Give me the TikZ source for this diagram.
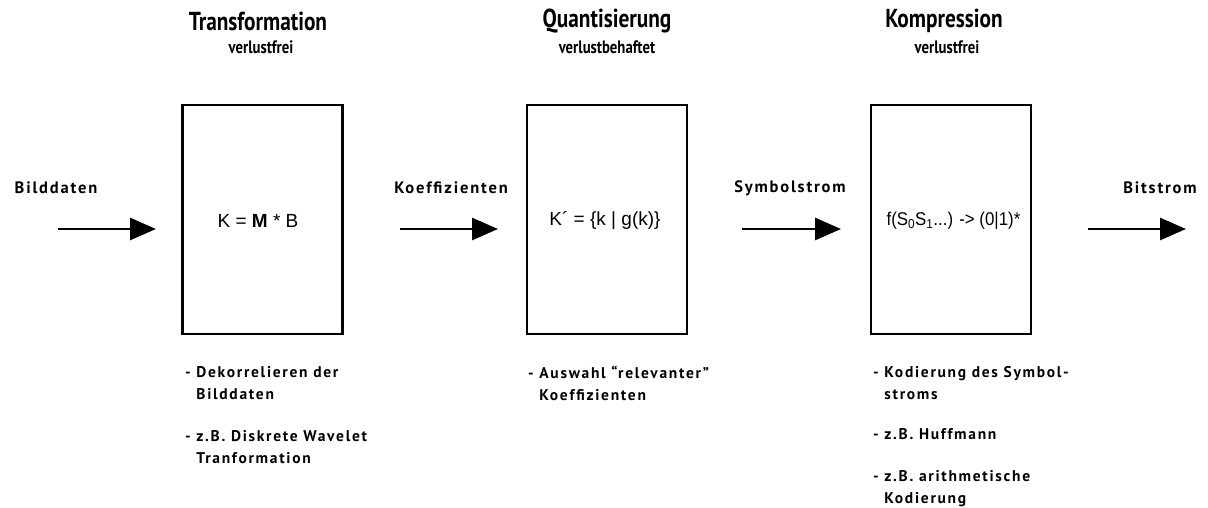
\documentclass[tikz,border=0pt]{standalone}
\usepackage{fontspec}
\usepackage{graphicx}
\setmainfont{Liberation Sans}
\newfontfamily\labfont{PT Sans}[LetterSpace=11]
\newfontfamily\titfont{PT Sans}[FakeStretch=0.82]
\usetikzlibrary{arrows.meta}
\begin{document}
\begin{tikzpicture}[x=1pt,y=-1pt,
  stage/.style={draw,line width=2.6pt,minimum width=160pt,minimum height=229pt,inner sep=0pt},
  flow/.style={line width=2.8pt,-{Triangle[length=26pt,width=22pt]}},
  title/.style={font=\titfont\bfseries\fontsize{26}{26}\selectfont,inner sep=0pt},
  subtitle/.style={font=\titfont\bfseries\fontsize{18}{18}\selectfont,inner sep=0pt},
  lab/.style={font=\labfont\bfseries\fontsize{16.5}{16.5}\selectfont,inner sep=0pt},
  note/.style={font=\labfont\bfseries\fontsize{15.5}{22}\selectfont,inner sep=0pt,align=left,anchor=north west},
  formula/.style={font=\fontsize{19}{19}\selectfont,inner sep=0pt}]
\useasboundingbox (0,0) rectangle (1208,508);
% boxes
\node[stage] (b1) at (262.5,219.5) {};
\node[stage] (b2) at (607,219.5) {};
\node[stage] (b3) at (951,219.5) {};
% formulas
\node[formula] (f1) at (258,221) {K = \textbf{M} * B};
\node[formula] (f2) at (605,221) {K\textasciiacute\ = \{k | g(k)\}};
\node[formula,font=\fontsize{18.5}{18.5}\selectfont] (f3) at (953.5,221) {\scalebox{0.91}[1]{f(S\textsubscript{0}S\textsubscript{1}...) -> (0|1)*}};
% titles
\node[title] (t1) at (258,21) {Transformation};
\node[subtitle] (s1) at (261,47) {verlustfrei};
\node[title] (t2) at (607,21) {Quantisierung};
\node[subtitle] (s2) at (607,47) {verlustbehaftet};
\node[title] (t3) at (944,21) {Kompression};
\node[subtitle] (s3) at (947,47) {verlustfrei};
% arrows
\coordinate (a1s) at (58,229); \coordinate (a1e) at (156,229);
\coordinate (a2s) at (400,229); \coordinate (a2e) at (498,229);
\coordinate (a3s) at (742,229); \coordinate (a3e) at (841,229);
\coordinate (a4s) at (1088,229); \coordinate (a4e) at (1186,229);
\draw[flow] (a1s) -- (a1e);
\draw[flow] (a2s) -- (a2e);
\draw[flow] (a3s) -- (a3e);
\draw[flow] (a4s) -- (a4e);
% arrow labels
\node[lab] (l1) at (56,188) {Bilddaten};
\node[lab] (l2) at (451,188) {Koeffizienten};
\node[lab] (l3) at (790,188) {Symbolstrom};
\node[lab] (l4) at (1160,188) {Bitstrom};
% notes
\node[note] (n1) at (185,366) {- Dekorrelieren der\\\phantom{- }Bilddaten\\[20pt]- z.B. Diskrete Wavelet\\\phantom{- }Tranformation};
\node[note] (n2) at (528,366) {- Auswahl \textquotedblleft relevanter\textquotedblright\\\phantom{- }Koeffizienten};
\node[note] (n3) at (873,366) {- Kodierung des Symbol-\\\phantom{- }stroms\\[18pt]- z.B. Huffmann\\[20pt]- z.B. arithmetische\\\phantom{- }Kodierung};
\end{tikzpicture}
\end{document}
